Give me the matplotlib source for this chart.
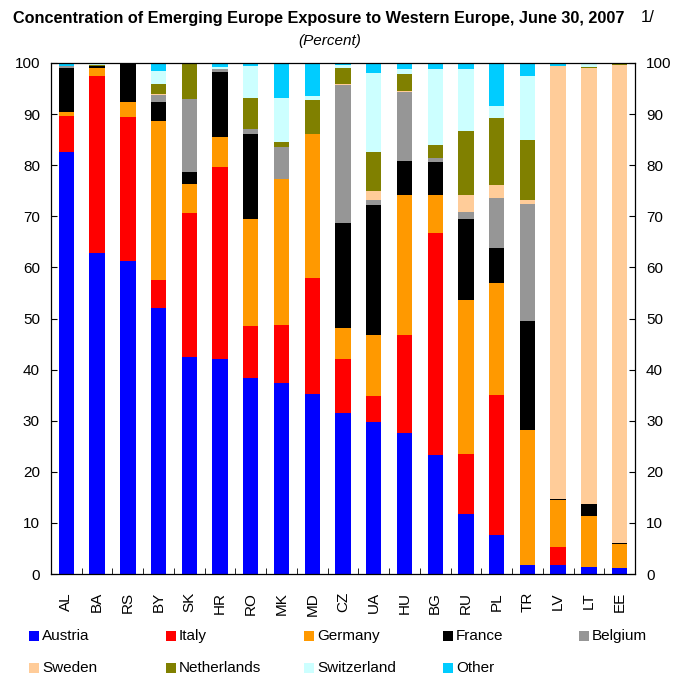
import matplotlib
matplotlib.use("Agg")
import matplotlib.pyplot as plt
import numpy as np
from matplotlib.patches import Rectangle

plt.rcParams['font.family'] = ['Liberation Sans', 'DejaVu Sans']

countries = ["AL", "BA", "RS", "BY", "SK", "HR", "RO", "MK", "MD", "CZ",
             "UA", "HU", "BG", "RU", "PL", "TR", "LV", "LT", "EE"]

austria     = [82.6, 62.8, 61.2, 52.1, 42.4, 42.0, 38.3, 37.4, 35.3, 31.6, 29.7, 27.6, 23.3, 11.7, 7.6, 1.8, 1.8, 1.4, 1.2]
italy       = [7.1, 34.6, 28.3, 5.5, 28.3, 37.6, 10.3, 11.4, 22.6, 10.5, 5.2, 19.2, 43.5, 11.8, 27.5, 0.0, 3.5, 0.0, 0.0]
germany     = [0.8, 1.6, 2.9, 31.0, 5.6, 6.0, 20.8, 28.5, 28.3, 6.0, 11.9, 27.4, 7.4, 30.1, 21.9, 26.3, 9.1, 9.9, 4.6]
france      = [8.5, 0.4, 7.4, 3.8, 2.4, 12.7, 16.7, 0.0, 0.0, 20.65, 25.5, 6.7, 6.4, 15.8, 6.8, 21.4, 0.2, 2.4, 0.2]
belgium     = [0.4, 0.0, 0.0, 1.3, 14.3, 0.6, 0.9, 6.2, 0.0, 27.0, 0.9, 13.4, 0.9, 1.5, 9.8, 23.0, 0.0, 0.0, 0.0]
sweden      = [0.0, 0.0, 0.0, 0.2, 0.0, 0.0, 0.0, 0.0, 0.0, 0.2, 1.7, 0.2, 0.0, 3.2, 2.5, 0.6, 84.9, 85.3, 93.6]
netherlands = [0.0, 0.3, 0.0, 2.0, 7.0, 0.0, 6.1, 1.0, 6.5, 3.1, 7.7, 3.3, 2.4, 12.6, 13.2, 11.9, 0.0, 0.2, 0.4]
switzerland = [0.0, 0.3, 0.0, 2.6, 0.0, 0.4, 6.3, 8.6, 0.8, 0.6, 15.5, 1.0, 14.9, 12.1, 2.3, 12.4, 0.0, 0.8, 0.0]
other       = [0.6, 0.0, 0.2, 1.5, 0.0, 0.7, 0.6, 6.9, 6.5, 0.4, 1.9, 1.2, 1.2, 1.2, 8.4, 2.6, 0.5, 0.0, 0.0]

series_names = ["Austria", "Italy", "Germany", "France", "Belgium",
                "Sweden", "Netherlands", "Switzerland", "Other"]
series_vals = [austria, italy, germany, france, belgium,
               sweden, netherlands, switzerland, other]
colors = ["#0000FF", "#FF0000", "#FF9900", "#000000", "#969696",
          "#FFCC99", "#808000", "#CCFFFF", "#00CCFF"]

W, H = 673, 676
fig = plt.figure(figsize=(W / 100, H / 100), dpi=100)
ax = fig.add_axes([51 / W, 1 - 574 / H, (635 - 51) / W, (574 - 63) / H])

x = np.arange(len(countries))
bottom = np.zeros(len(countries))
for name, vals, c in zip(series_names, series_vals, colors):
    v = np.array(vals)
    ax.bar(x, v, width=0.5, bottom=bottom, color=c, linewidth=0, label=name)
    bottom += v

ax.set_xlim(-0.5, len(countries) - 0.5)
ax.set_ylim(0, 100)
ax.set_yticks(np.arange(0, 101, 10))
ax.tick_params(axis='y', direction='in', length=4, labelsize=11,
               right=True, labelright=True, left=True, labelleft=True, pad=8)
ax.set_xticks(x)
ax.set_xticklabels(countries, rotation=90, fontsize=11)
ax.tick_params(axis='x', length=0, pad=13)
ax.set_xticks(np.arange(-0.5, len(countries), 1), minor=True)
ax.tick_params(axis='x', which='minor', direction='in', length=4)
for s in ax.spines.values():
    s.set_linewidth(0.9)

# Title: bold part followed by regular "1/"
t = fig.text(13 / W, 1 - 18 / H,
             "Concentration of Emerging Europe Exposure to Western Europe, June 30, 2007",
             ha='left', va='center', fontsize=11.7, fontweight='bold')
fig.canvas.draw()
bb = t.get_window_extent()
fig.text((bb.x1 + 16) / W, 1 - 18 / H, "1/", ha='left', va='center', fontsize=12)
fig.text(330 / W, 1 - 41 / H, "(Percent)", ha='center', va='center',
         fontsize=11, style='italic')

# Legend laid out in two rows like the original
col_x = [29, 166, 304, 443, 579]
row_y = [636, 668]
for i, (name, c) in enumerate(zip(series_names, colors)):
    r, k = divmod(i, 5)
    px, py = col_x[k], row_y[r]
    fig.patches.append(Rectangle((px / W, 1 - (py + 5) / H), 10 / W, 10 / H,
                                 transform=fig.transFigure, facecolor=c,
                                 edgecolor='none', figure=fig))
    fig.text((px + 13) / W, 1 - py / H, name, ha='left', va='center', fontsize=11)

fig.savefig("out.png", dpi=100)
